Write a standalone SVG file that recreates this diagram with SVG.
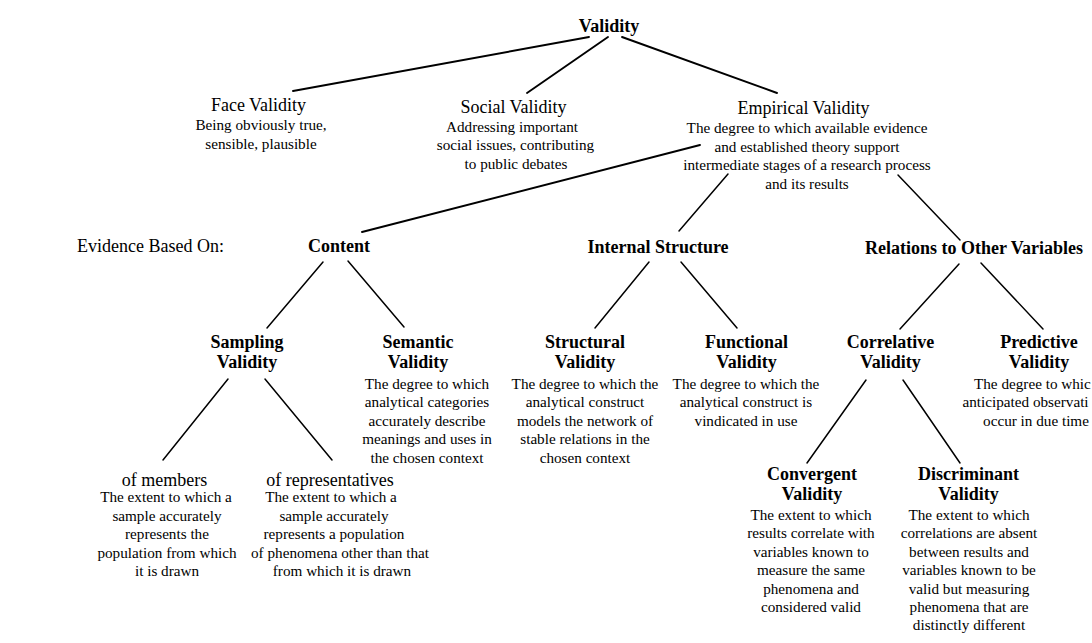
<svg xmlns="http://www.w3.org/2000/svg" width="1092" height="643" viewBox="0 0 1092 643">
<style>
text{font-family:"Liberation Serif","Times New Roman",serif;fill:#000;text-anchor:middle}
.b{font-size:18px;font-weight:bold}
.r{font-size:18px}
.d{font-size:15.2px}
.s{text-anchor:start}
#connectors line{stroke:#000;stroke-width:1.5;stroke-linecap:round}
#connectors .top{stroke-width:1.9}
</style>
<rect width="1092" height="643" fill="#fff"/>
<g id="connectors">
<line class="top" x1="589" y1="37" x2="293" y2="91"/>
<line class="top" x1="608" y1="37" x2="527" y2="93"/>
<line class="top" x1="622" y1="37" x2="777" y2="93"/>
<line class="top" x1="700" y1="145" x2="362" y2="232"/>
<line x1="728" y1="174" x2="679" y2="231"/>
<line x1="898" y1="175" x2="960" y2="240"/>
<line x1="323" y1="262" x2="267" y2="328"/>
<line x1="348" y1="261" x2="404" y2="327"/>
<line x1="649" y1="262" x2="595" y2="328"/>
<line x1="681" y1="262" x2="737" y2="328"/>
<line x1="959" y1="264" x2="900" y2="329"/>
<line x1="981" y1="263" x2="1043" y2="329"/>
<line x1="228" y1="379" x2="163" y2="460"/>
<line x1="265" y1="379" x2="332" y2="460"/>
<line x1="866" y1="380" x2="807" y2="463"/>
<line x1="903" y1="380" x2="960" y2="463"/>
</g>
<g id="validity"><text class="b" x="609" y="32">Validity</text></g>
<g id="face">
<text class="r" x="258.5" y="111">Face Validity</text>
<text class="d" x="261" y="130">Being obviously true,</text>
<text class="d" x="261" y="148.5">sensible, plausible</text>
</g>
<g id="social">
<text class="r" x="513.5" y="112.5">Social Validity</text>
<text class="d" x="512" y="131.5">Addressing important</text>
<text class="d" x="515.5" y="150">social issues, contributing</text>
<text class="d" x="516" y="168.5">to public debates</text>
</g>
<g id="empirical">
<text class="r" x="803.5" y="114">Empirical Validity</text>
<text class="d" x="807" y="133">The degree to which available evidence</text>
<text class="d" x="807" y="151.5">and established theory support</text>
<text class="d" x="807" y="170">intermediate stages of a research process</text>
<text class="d" x="807" y="188.5">and its results</text>
</g>
<g id="evidence"><text class="r s" x="77" y="252">Evidence Based On:</text></g>
<g id="content"><text class="b" x="339" y="252">Content</text></g>
<g id="internal"><text class="b" x="658" y="253">Internal Structure</text></g>
<g id="relations"><text class="b" x="974" y="254">Relations to Other Variables</text></g>
<g id="sampling">
<text class="b" x="247" y="347.5">Sampling</text>
<text class="b" x="247" y="368">Validity</text>
</g>
<g id="semantic">
<text class="b" x="418" y="347.5">Semantic</text>
<text class="b" x="418" y="368">Validity</text>
<text class="d" x="427" y="388.5">The degree to which</text>
<text class="d" x="427" y="407">analytical categories</text>
<text class="d" x="427" y="425.5">accurately describe</text>
<text class="d" x="427" y="444">meanings and uses in</text>
<text class="d" x="427" y="462.5">the chosen context</text>
</g>
<g id="structural">
<text class="b" x="585" y="347.5">Structural</text>
<text class="b" x="585" y="368">Validity</text>
<text class="d" x="585" y="388.5">The degree to which the</text>
<text class="d" x="585" y="407">analytical construct</text>
<text class="d" x="585" y="425.5">models the network of</text>
<text class="d" x="585" y="444">stable relations in the</text>
<text class="d" x="585" y="462.5">chosen context</text>
</g>
<g id="functional">
<text class="b" x="746.5" y="347.5">Functional</text>
<text class="b" x="746.5" y="368">Validity</text>
<text class="d" x="746" y="388.5">The degree to which the</text>
<text class="d" x="746" y="407">analytical construct is</text>
<text class="d" x="746" y="425.5">vindicated in use</text>
</g>
<g id="correlative">
<text class="b" x="890.5" y="347.5">Correlative</text>
<text class="b" x="890.5" y="368">Validity</text>
</g>
<g id="predictive">
<text class="b" x="1039" y="347.5">Predictive</text>
<text class="b" x="1039" y="368">Validity</text>
<text class="d s" x="974" y="388.5">The degree to whic</text>
<text class="d s" x="962.5" y="407">anticipated observati</text>
<text class="d" x="1036" y="425.5">occur in due time</text>
</g>
<g id="members">
<text class="r" x="164.5" y="485.5">of members</text>
<text class="d" x="166" y="502">The extent to which a</text>
<text class="d" x="167" y="520.5">sample accurately</text>
<text class="d" x="167" y="539">represents the</text>
<text class="d" x="167" y="557.5">population from which</text>
<text class="d" x="167" y="576">it is drawn</text>
</g>
<g id="representatives">
<text class="r" x="330" y="485.5">of representatives</text>
<text class="d" x="331" y="502">The extent to which a</text>
<text class="d" x="334" y="520.5">sample accurately</text>
<text class="d" x="334" y="539">represents a population</text>
<text class="d" x="340" y="557.5">of phenomena other than that</text>
<text class="d" x="342" y="576">from which it is drawn</text>
</g>
<g id="convergent">
<text class="b" x="812" y="479.5">Convergent</text>
<text class="b" x="812" y="500">Validity</text>
<text class="d" x="811" y="520">The extent to which</text>
<text class="d" x="811" y="538.4">results correlate with</text>
<text class="d" x="811" y="556.8">variables known to</text>
<text class="d" x="811" y="575.2">measure the same</text>
<text class="d" x="811" y="593.6">phenomena and</text>
<text class="d" x="811" y="612">considered valid</text>
</g>
<g id="discriminant">
<text class="b" x="968.5" y="479.5">Discriminant</text>
<text class="b" x="968.5" y="500">Validity</text>
<text class="d" x="969" y="520">The extent to which</text>
<text class="d" x="969" y="538.4">correlations are absent</text>
<text class="d" x="969" y="556.8">between results and</text>
<text class="d" x="969" y="575.2">variables known to be</text>
<text class="d" x="969" y="593.6">valid but measuring</text>
<text class="d" x="969" y="612">phenomena that are</text>
<text class="d" x="969" y="630.4">distinctly different</text>
</g>
</svg>
